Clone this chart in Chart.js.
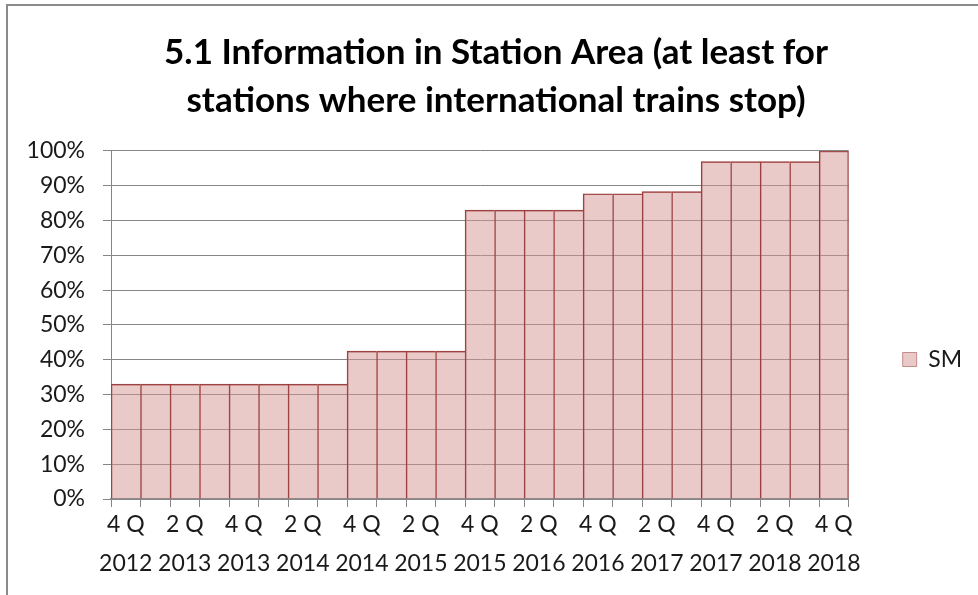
<!DOCTYPE html>
<html>
<head>
<meta charset="utf-8">
<script src="https://cdn.jsdelivr.net/npm/chart.js@4"></script>
<style>
  body { margin: 0; background: #fff; }
  #wrap { position: relative; width: 978px; height: 595px; }
  #frame {
    position: absolute; left: 6px; top: 4px; width: 972px; height: 589px;
    border-left: 2px solid #8a8a8a; border-top: 2px solid #8a8a8a;
    pointer-events: none;
  }
</style>
</head>
<body>
<div id="wrap">
  <canvas id="myChart" width="978" height="595"></canvas>
  <div id="frame"></div>
</div>
<script>
// quarters 4Q 2012 .. 4Q 2018
var quarters = [
    ['4 Q', '2012'],
    ['1 Q', '2013'], ['2 Q', '2013'], ['3 Q', '2013'], ['4 Q', '2013'],
    ['1 Q', '2014'], ['2 Q', '2014'], ['3 Q', '2014'], ['4 Q', '2014'],
    ['1 Q', '2015'], ['2 Q', '2015'], ['3 Q', '2015'], ['4 Q', '2015'],
    ['1 Q', '2016'], ['2 Q', '2016'], ['3 Q', '2016'], ['4 Q', '2016'],
    ['1 Q', '2017'], ['2 Q', '2017'], ['3 Q', '2017'], ['4 Q', '2017'],
    ['1 Q', '2018'], ['2 Q', '2018'], ['3 Q', '2018'], ['4 Q', '2018']
];
var smValues = [
    33, 33, 33, 33, 33, 33, 33, 33,
    42.5, 42.5, 42.5, 42.5,
    83, 83, 83, 83,
    87.7, 87.7,
    88.3, 88.3,
    96.9, 96.9, 96.9, 96.9,
    100
];
var titleLines = ['5.1 Information in Station Area (at least for', 'stations where international trains stop)'];

var gridGray = '#868686';
var textColor = '#1a1a1a';

var ctx = document.getElementById('myChart').getContext('2d');
var myChart = new Chart(ctx, {
    type: 'bar',
    data: {
        labels: quarters,
        datasets: [{
            label: 'SM',
            data: smValues,
            backgroundColor: 'rgba(214, 148, 148, 0.5)',
            borderColor: '#953735',
            borderWidth: function (c) {
                return { top: 1, left: 1, bottom: 0, right: c.dataIndex === smValues.length - 1 ? 1 : 0 };
            },
            borderSkipped: false,
            categoryPercentage: 1.0,
            barPercentage: 1.0
        }]
    },
    options: {
        responsive: false,
        animation: false,
        layout: {
            padding: { left: 20, right: 6, top: 0, bottom: 0 }
        },
        plugins: {
            title: {
                display: true,
                text: titleLines,
                color: '#000',
                font: { family: 'Lato', size: 35, weight: 'bold', lineHeight: 1.37 },
                padding: { top: 29, bottom: 26 }
            },
            legend: {
                position: 'right',
                // empty legend title only pushes the entry down to mid-height
                title: {
                    display: true,
                    text: '',
                    font: { size: 4, lineHeight: 1 },
                    padding: { top: 60, bottom: 60 }
                },
                labels: {
                    color: textColor,
                    font: { family: 'Lato', size: 23 },
                    boxWidth: 14,
                    boxHeight: 14,
                    padding: 54
                }
            },
            tooltip: { enabled: false }
        },
        scales: {
            x: {
                grid: {
                    drawOnChartArea: false,
                    drawTicks: true,
                    tickLength: 8,
                    color: gridGray
                },
                border: { color: gridGray, width: 2 },
                ticks: {
                    autoSkip: false,
                    maxRotation: 0,
                    minRotation: 0,
                    padding: -2,
                    color: textColor,
                    font: { family: 'Lato', size: 23, lineHeight: 1.7 },
                    callback: function (val, i) {
                        return i % 2 === 0 ? this.getLabelForValue(val) : '';
                    }
                },
                afterFit: function (scale) {
                    scale.height = 96;
                }
            },
            y: {
                min: 0,
                max: 100,
                grid: {
                    color: gridGray,
                    tickLength: 8
                },
                border: { color: gridGray, width: 1 },
                ticks: {
                    stepSize: 10,
                    padding: 18,
                    color: textColor,
                    font: { family: 'Lato', size: 23 },
                    callback: function (v) { return v + '%'; }
                },
                afterFit: function (scale) {
                    scale.width = 91;
                }
            }
        }
    }
});
</script>
</body>
</html>
